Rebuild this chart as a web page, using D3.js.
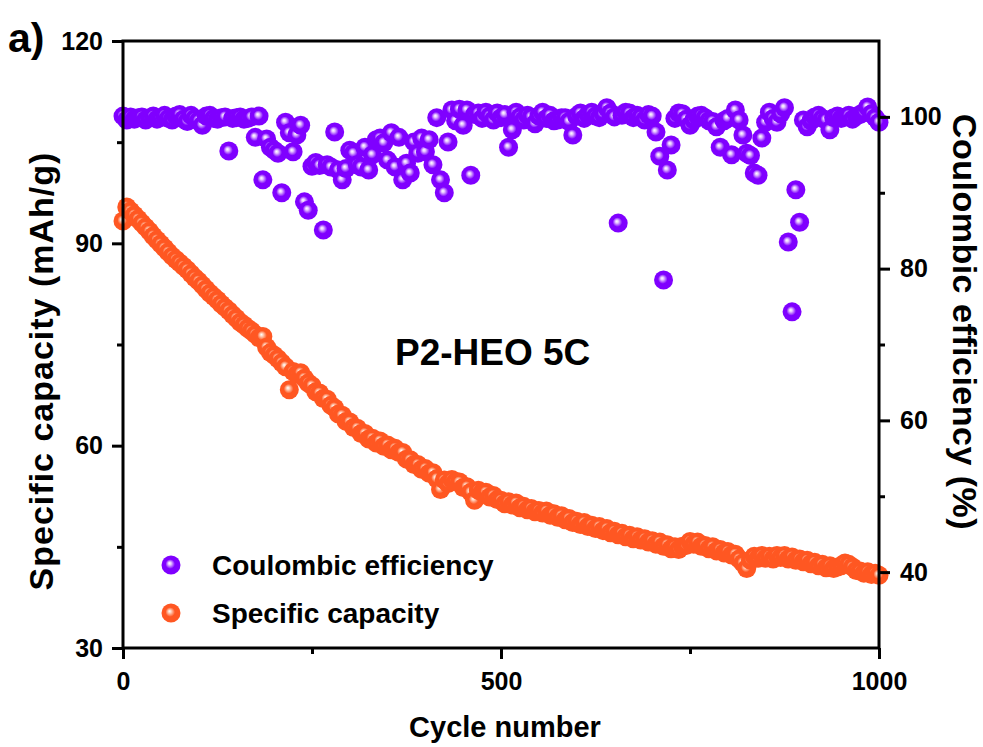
<!DOCTYPE html>
<html>
<head>
<meta charset="utf-8">
<script src="https://cdn.jsdelivr.net/npm/d3@7"></script>
<style>
  html, body { margin: 0; padding: 0; background: #fff; }
  svg { display: block; font-family: "Liberation Sans", Arial, sans-serif; font-weight: bold; }
</style>
</head>
<body>
<svg id="chart" width="983" height="747"></svg>
<script>
// Dữ liệu: mỗi 5 chu kỳ một điểm, 0 → 1000
const cycles = d3.range(0, 1001, 5);

// Specific capacity (mAh/g) – trục trái
const capacity = [
  93.3, 95.4, 94.8, 94.2, 93.6, 93.0, 92.4, 91.8, 91.1, 90.5,
  89.9, 89.3, 88.7, 88.1, 87.6, 87.1, 86.6, 86.1, 85.5, 84.9,
  84.4, 83.8, 83.2, 82.6, 82.1, 81.6, 81.0, 80.5, 80.0, 79.4,
  78.9, 78.3, 77.9, 77.4, 77.0, 76.5, 76.0, 76.2, 74.6, 73.8,
  73.4, 72.9, 72.3, 71.7, 68.3, 71.0, 70.6, 70.8, 70.0, 69.3,
  68.9, 68.0, 67.8, 67.0, 66.9, 66.0, 65.6, 64.7, 64.5, 63.6,
  63.5, 62.7, 62.6, 61.8, 61.8, 61.0, 61.1, 60.4, 60.7, 59.9,
  60.1, 59.4, 59.6, 59.0, 59.0, 58.0, 57.9, 57.2, 57.2, 56.5,
  56.6, 55.9, 56.0, 55.1, 53.5, 54.9, 54.4, 55.0, 54.7, 54.6,
  53.8, 53.9, 53.1, 51.9, 53.4, 53.1, 53.1, 52.4, 52.6, 52.0,
  51.9, 51.4, 51.7, 51.2, 51.5, 50.8, 51.0, 50.5, 50.7, 50.2,
  50.4, 50.0, 50.3, 49.7, 49.9, 49.4, 49.6, 49.0, 49.2, 48.6,
  48.8, 48.3, 48.6, 48.0, 48.2, 47.7, 48.0, 47.4, 47.7, 47.1,
  47.3, 46.8, 47.0, 46.5, 46.7, 46.2, 46.5, 46.0, 46.2, 45.7,
  45.9, 45.4, 45.7, 45.1, 45.3, 44.7, 45.0, 44.6, 45.1, 45.2,
  45.8, 45.4, 45.7, 45.1, 45.2, 44.7, 45.0, 44.4, 44.6, 44.1,
  44.3, 43.8, 43.9, 43.2, 42.6, 41.8, 43.0, 43.6, 43.3, 43.7,
  43.3, 43.6, 43.2, 43.7, 43.4, 43.7, 43.2, 43.5, 43.0, 43.2,
  42.8, 43.0, 42.5, 42.7, 42.2, 42.4, 41.9, 42.2, 41.8, 42.0,
  42.2, 42.6, 42.4, 42.0, 41.5, 41.4, 41.1, 41.3, 40.9, 41.1,
  40.8
];

// Coulombic efficiency (%) – trục phải
const efficiency = [
  100.1, 99.6, 100.0, 99.7, 99.9, 100.0, 99.6, 99.9, 100.1, 99.7,
  99.9, 100.2, 99.8, 99.6, 100.1, 100.3, 99.7, 99.4, 100.2, 99.8,
  99.5, 98.9, 100.1, 100.2, 99.8, 99.7, 99.9, 100.0, 95.5, 99.8,
  99.9, 100.0, 99.7, 99.8, 100.0, 97.3, 100.1, 91.7, 97.1, 96.0,
  95.6, 95.2, 90.0, 99.3, 97.9, 95.4, 97.6, 98.9, 88.8, 87.7,
  93.5, 94.0, 93.6, 85.1, 93.7, 93.4, 98.0, 93.0, 91.7, 93.2,
  95.6, 95.2, 93.7, 93.4, 96.0, 93.0, 95.0, 97.0, 97.2, 96.6,
  94.3, 97.9, 93.4, 97.3, 91.7, 93.9, 92.6, 96.7, 95.2, 97.2,
  95.4, 97.0, 93.7, 99.9, 91.7, 90.0, 96.7, 100.9, 99.5, 101.0,
  98.9, 100.9, 92.3, 100.3, 100.5, 99.8, 100.6, 100.1, 99.6, 100.5,
  99.9, 100.3, 96.0, 98.3, 100.6, 100.0, 99.6, 100.2, 100.0, 99.1,
  100.1, 100.6, 99.8, 100.2, 99.5, 99.6, 99.9, 99.9, 99.4, 97.6,
  100.1, 100.5, 99.8, 100.3, 100.6, 100.1, 99.9, 100.4, 101.2, 100.5,
  100.0, 86.0, 100.2, 100.6, 100.5, 99.9, 100.2, 100.0, 99.6, 100.3,
  100.1, 98.0, 94.8, 78.5, 93.0, 96.3, 99.8, 100.5, 100.4, 99.7,
  98.9, 99.6, 100.1, 100.2, 99.9, 99.5, 99.4, 98.7, 96.0, 99.5,
  99.8, 95.0, 100.9, 99.6, 97.6, 95.2, 94.9, 92.6, 92.3, 97.2,
  99.3, 100.6, 99.8, 99.3, 100.4, 101.2, 83.5, 74.3, 90.4, 86.1,
  99.6, 98.7, 99.5, 100.0, 100.2, 99.8, 99.6, 98.3, 99.9, 100.1,
  99.8, 100.0, 100.2, 99.7, 100.1, 100.3, 100.6, 101.3, 100.4, 99.9,
  99.3
];

const xTicks = [0, 500, 1000];
const yLeftTicks = [30, 60, 90, 120];
const yRightTicks = [40, 60, 80, 100];

// 1. Khung SVG
const svg = d3.select("#chart");
const margin = { top: 41, right: 104, bottom: 99, left: 123 };
const W = +svg.attr("width");
const H = +svg.attr("height");
const x0 = margin.left, x1 = W - margin.right;
const y0 = H - margin.bottom, y1 = margin.top;

// 2. Thang đo
const x = d3.scaleLinear().domain([0, 1000]).range([x0, x1]);
const yL = d3.scaleLinear().domain([30, 120]).range([y0, y1]);
const yR = d3.scaleLinear().domain([30, 110]).range([y0, y1]);

// 3. Gradient cho hạt cầu
const defs = svg.append("defs");
function ball(id, light, base) {
  const g = defs.append("radialGradient").attr("id", id)
    .attr("cx", "50%").attr("cy", "50%").attr("r", "50%")
    .attr("fx", "42%").attr("fy", "40%");
  g.append("stop").attr("offset", "0%").attr("stop-color", "#ffffff");
  g.append("stop").attr("offset", "16%").attr("stop-color", light);
  g.append("stop").attr("offset", "50%").attr("stop-color", base);
  g.append("stop").attr("offset", "100%").attr("stop-color", base);
}
ball("gPurple", "#e6c8ff", "#7f00ff");
ball("gOrange", "#ffd2bd", "#ff5722");

const R = 9.5;

// 4. Điểm dữ liệu
svg.append("g").selectAll("circle")
  .data(cycles.map((c, i) => [c, capacity[i]]))
  .enter().append("circle")
  .attr("cx", d => x(d[0]))
  .attr("cy", d => yL(d[1]))
  .attr("r", R)
  .attr("fill", "url(#gOrange)");

svg.append("g").selectAll("circle")
  .data(cycles.map((c, i) => [c, efficiency[i]]))
  .enter().append("circle")
  .attr("cx", d => x(d[0]))
  .attr("cy", d => yR(d[1]))
  .attr("r", R)
  .attr("fill", "url(#gPurple)");

// 5. Trục
function styleAxis(g) {
  g.select(".domain").remove();
  g.selectAll("line").attr("stroke", "#000").attr("stroke-width", 3);
  g.selectAll("text").style("font-size", "25px").attr("fill", "#000");
}

svg.append("g")
  .attr("transform", `translate(0,${y0})`)
  .call(d3.axisBottom(x).tickValues(xTicks).tickSize(11).tickPadding(13).tickFormat(d3.format("d")))
  .call(styleAxis);
svg.append("g")
  .attr("transform", `translate(0,${y0})`)
  .call(d3.axisBottom(x).tickValues([250, 750]).tickSize(6).tickFormat(""))
  .call(styleAxis);

svg.append("g")
  .attr("transform", `translate(${x0},0)`)
  .call(d3.axisLeft(yL).tickValues(yLeftTicks).tickSize(11).tickPadding(9))
  .call(styleAxis);
svg.append("g")
  .attr("transform", `translate(${x0},0)`)
  .call(d3.axisLeft(yL).tickValues([45, 75, 105]).tickSize(6).tickFormat(""))
  .call(styleAxis);

svg.append("g")
  .attr("transform", `translate(${x1},0)`)
  .call(d3.axisRight(yR).tickValues(yRightTicks).tickSize(11).tickPadding(10))
  .call(styleAxis);
svg.append("g")
  .attr("transform", `translate(${x1},0)`)
  .call(d3.axisRight(yR).tickValues([50, 70, 90]).tickSize(6).tickFormat(""))
  .call(styleAxis);

// Khung
svg.append("rect")
  .attr("x", x0).attr("y", y1)
  .attr("width", x1 - x0).attr("height", y0 - y1)
  .attr("fill", "none").attr("stroke", "#000").attr("stroke-width", 3);

// 6. Nhãn trục
svg.append("text")
  .attr("x", 505).attr("y", 737)
  .attr("text-anchor", "middle")
  .style("font-size", "29px")
  .text("Cycle number");

svg.append("text")
  .attr("transform", "translate(53,371) rotate(-90)")
  .attr("text-anchor", "middle")
  .style("font-size", "34px")
  .style("letter-spacing", "1px")
  .text("Specific capacity (mAh/g)");

svg.append("text")
  .attr("transform", "translate(953,322) rotate(90)")
  .attr("text-anchor", "middle")
  .style("font-size", "34px")
  .style("letter-spacing", "0.5px")
  .text("Coulombic efficiency (%)");

svg.append("text")
  .attr("x", 8).attr("y", 52)
  .style("font-size", "41px")
  .text("a)");

svg.append("text")
  .attr("x", 395).attr("y", 365)
  .style("font-size", "37px")
  .text("P2-HEO 5C");

// 7. Chú giải
const legend = [
  { label: "Coulombic efficiency", fill: "url(#gPurple)", y: 565 },
  { label: "Specific capacity", fill: "url(#gOrange)", y: 613 }
];
const lg = svg.append("g");
legend.forEach(d => {
  lg.append("circle").attr("cx", 171).attr("cy", d.y).attr("r", 9.5).attr("fill", d.fill);
  lg.append("text").attr("x", 212).attr("y", d.y + 10)
    .style("font-size", "28px").text(d.label);
});
</script>
</body>
</html>
